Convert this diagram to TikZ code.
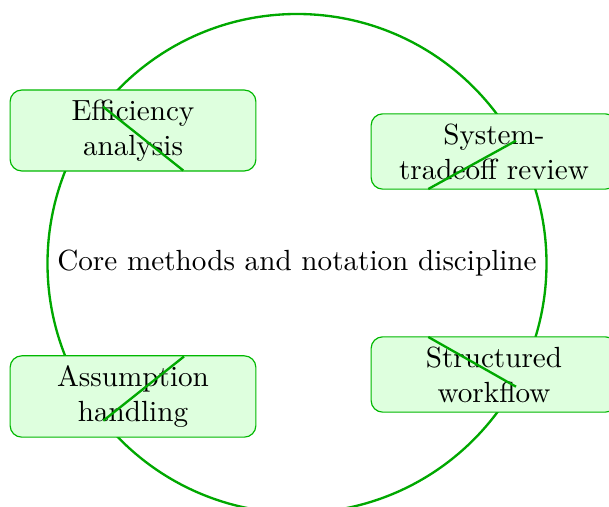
\documentclass[tikz,border=0pt]{standalone}
\usepackage{tikz}
\colorlet{ringgreen}{green!66!black}
\colorlet{boxline}{green!72!black}
\colorlet{boxfill}{green!13}
\tikzset{
  ring/.style={draw=ringgreen, line width=0.8pt},
  topicbox/.style={draw=boxline, line width=0.4pt, fill=boxfill, rounded corners=4pt,
    text width=77.6pt, align=center, inner sep=3.33pt, font=\normalsize},
  stroke/.style={draw=ringgreen, line width=0.8pt}
}
\begin{document}
\begin{tikzpicture}[x=0.3428pt, y=-0.3428pt]
\useasboundingbox (0,0) rectangle (609,507);
\node[ring, circle, minimum size=499*0.3428pt, inner sep=0pt] (ring) at (297,263.5) {};
\node (core) at (297,263) {Core methods and notation discipline};
\node[topicbox] (eff) at (133,130.5) {Efficiency\\analysis};
\node[topicbox] (sys) at (494,151.5) {System-\\tradeoff review};
\node[topicbox] (asm) at (133,396.5) {Assumption\\handling};
\node[topicbox] (wf) at (494,374.5) {Structured\\workflow};
\coordinate (e1) at (103,106.7);
\coordinate (e2) at (183.3,170.5);
\coordinate (s1) at (516,140.7);
\coordinate (s2) at (428.3,189);
\coordinate (a1) at (184,356.5);
\coordinate (a2) at (103.3,420.7);
\coordinate (w1) at (428.3,337);
\coordinate (w2) at (516,386.7);
\draw[stroke] (e1) -- (e2);
\draw[stroke] (s1) -- (s2);
\draw[stroke] (a1) -- (a2);
\draw[stroke] (w1) -- (w2);
\end{tikzpicture}
\end{document}
